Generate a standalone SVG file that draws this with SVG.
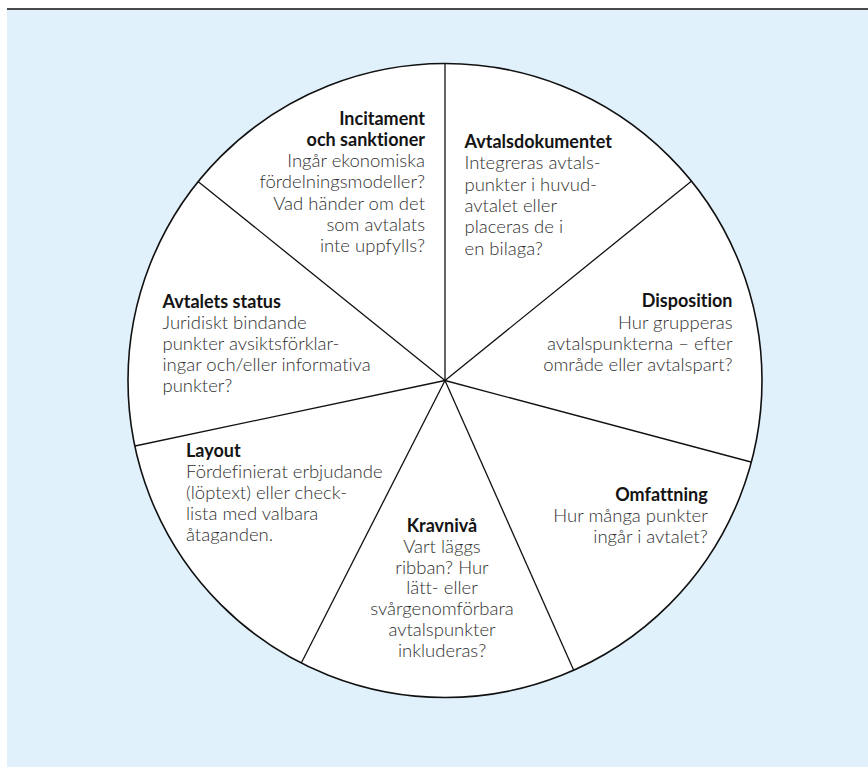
<svg xmlns="http://www.w3.org/2000/svg" width="868" height="767" viewBox="0 0 868 767">
  <style>
    .panel { fill: #e0f1fb; }
    .rule { fill: #4a4a4a; }
    .wheel { fill: #ffffff; stroke: #111111; stroke-width: 1.6; }
    .spoke { stroke: #111111; stroke-width: 1.3; fill: none; }
    text { font-family: Lato, "Open Sans", "Liberation Sans", sans-serif; font-size: 18px; font-variant-ligatures: none; }
    .title { font-weight: 700; fill: #141414; }
    .body { font-weight: 300; fill: #303030; font-size: 18.5px; }
    .end { text-anchor: end; }
    .mid { text-anchor: middle; }
  </style>

  <!-- background panel with top rule -->
  <rect x="0" y="0" width="868" height="767" fill="#ffffff"/>
  <rect class="panel" x="7" y="10" width="861" height="757"/>
  <rect class="rule" x="7" y="8" width="861" height="2"/>

  <!-- wheel -->
  <circle class="wheel" cx="445" cy="380.5" r="317"/>

  <!-- dividing spokes -->
  <g id="spokes">
    <line class="spoke" x1="445" y1="380.5" x2="445" y2="63.5"/>
    <line class="spoke" x1="445" y1="380.5" x2="691.3" y2="181.2"/>
    <line class="spoke" x1="445" y1="380.5" x2="751" y2="462"/>
    <line class="spoke" x1="445" y1="380.5" x2="573.6" y2="670"/>
    <line class="spoke" x1="445" y1="380.5" x2="301.3" y2="663"/>
    <line class="spoke" x1="445" y1="380.5" x2="135" y2="446"/>
    <line class="spoke" x1="445" y1="380.5" x2="198" y2="181.4"/>
  </g>

  <g id="incitament">
    <text class="title end" x="425" y="124.5">Incitament</text>
    <text class="title end" x="425" y="145.8">och sanktioner</text>
    <text class="body end" x="425" y="167.1">Ingår ekonomiska</text>
    <text class="body end" x="425" y="188.4">fördelningsmodeller?</text>
    <text class="body end" x="425" y="209.7">Vad händer om det</text>
    <text class="body end" x="425" y="231">som avtalats</text>
    <text class="body end" x="425" y="252.3">inte uppfylls?</text>
  </g>

  <g id="avtalsdokumentet">
    <text class="title" x="464.5" y="148">Avtalsdokumentet</text>
    <text class="body" x="464.5" y="169.3">Integreras avtals-</text>
    <text class="body" x="464.5" y="190.6">punkter i huvud-</text>
    <text class="body" x="464.5" y="211.9">avtalet eller</text>
    <text class="body" x="464.5" y="233.2">placeras de i</text>
    <text class="body" x="464.5" y="254.5">en bilaga?</text>
  </g>

  <g id="disposition">
    <text class="title end" x="732.5" y="307.3">Disposition</text>
    <text class="body end" x="732.5" y="328.5">Hur grupperas</text>
    <text class="body end" x="732.5" y="349.7">avtalspunkterna – efter</text>
    <text class="body end" x="732.5" y="370.9">område eller avtalspart?</text>
  </g>

  <g id="omfattning">
    <text class="title end" x="707.7" y="501">Omfattning</text>
    <text class="body end" x="707.7" y="522.2">Hur många punkter</text>
    <text class="body end" x="707.7" y="543.4">ingår i avtalet?</text>
  </g>

  <g id="kravniva">
    <text class="title mid" x="442" y="531.7">Kravnivå</text>
    <text class="body mid" x="442" y="552.6">Vart läggs</text>
    <text class="body mid" x="442" y="573.5">ribban? Hur</text>
    <text class="body mid" x="442" y="594.4">lätt- eller</text>
    <text class="body mid" x="442" y="615.3">svårgenomförbara</text>
    <text class="body mid" x="442" y="636.2">avtalspunkter</text>
    <text class="body mid" x="442" y="657.1">inkluderas?</text>
  </g>

  <g id="layout">
    <text class="title" x="186" y="456.7">Layout</text>
    <text class="body" x="186" y="477.7">Fördefinierat erbjudande</text>
    <text class="body" x="186" y="498.7">(löptext) eller check-</text>
    <text class="body" x="186" y="519.7">lista med valbara</text>
    <text class="body" x="186" y="540.7">åtaganden.</text>
  </g>

  <g id="avtalets-status">
    <text class="title" x="162.5" y="307.5">Avtalets status</text>
    <text class="body" x="162.5" y="328.5">Juridiskt bindande</text>
    <text class="body" x="162.5" y="349.5">punkter avsiktsförklar-</text>
    <text class="body" x="162.5" y="370.5">ingar och/eller informativa</text>
    <text class="body" x="162.5" y="391.5">punkter?</text>
  </g>
</svg>
